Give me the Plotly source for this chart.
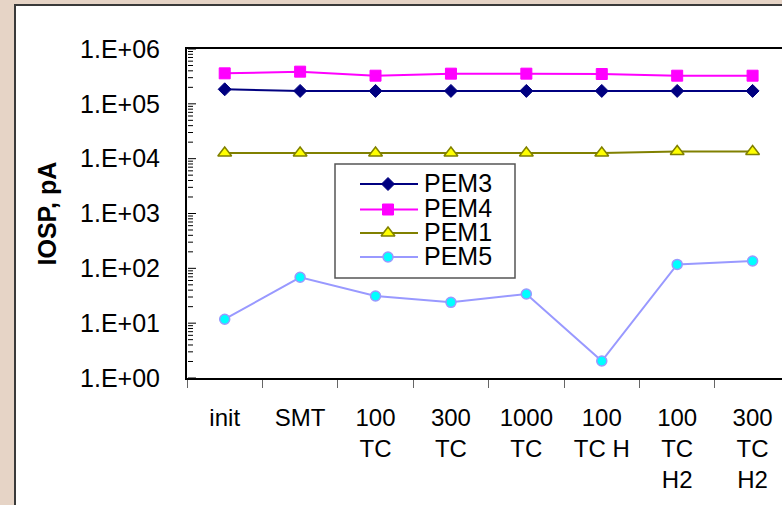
import plotly.graph_objects as go

# Test stages (x categories) and IOSP leakage current per module, in pA
stages = ["init", "SMT", "100<br>TC", "300<br>TC", "1000<br>TC",
          "100<br>TC H", "100<br>TC<br>H2", "300<br>TC<br>H2"]
pem3 = [1.84e5, 1.72e5, 1.72e5, 1.72e5, 1.72e5, 1.72e5, 1.72e5, 1.72e5]
pem4 = [3.60e5, 3.86e5, 3.26e5, 3.55e5, 3.55e5, 3.50e5, 3.26e5, 3.26e5]
pem1 = [1.27e4, 1.27e4, 1.27e4, 1.27e4, 1.27e4, 1.27e4, 1.35e4, 1.35e4]
pem5 = [11.8, 68.7, 31.3, 24.0, 34.0, 2.04, 118, 136]

y_tickvals = [1e0, 1e1, 1e2, 1e3, 1e4, 1e5, 1e6]
y_ticktext = ["1.E+00", "1.E+01", "1.E+02", "1.E+03", "1.E+04", "1.E+05", "1.E+06"]
# minor log ticks at 2..9 within each decade
y_minor = [m * d for d in y_tickvals[:-1] for m in range(2, 10)]

FONT = "Liberation Sans, Arial, sans-serif"
W, H = 782, 505
L, R, T, B = 187, 0, 49, 127

series = [
    dict(name="PEM3", y=pem3, line="#000080",
         marker=dict(symbol="diamond", size=10, color="#000080",
                     line=dict(color="#000080", width=1))),
    dict(name="PEM4", y=pem4, line="#FF00FF",
         marker=dict(symbol="square", size=11, color="#FF00FF",
                     line=dict(color="#FF00FF", width=1))),
    dict(name="PEM1", y=pem1, line="#808000",
         marker=dict(symbol="triangle-up", size=12, color="#FFFF00",
                     line=dict(color="#808000", width=1.5))),
    dict(name="PEM5", y=pem5, line="#9999FF",
         marker=dict(symbol="circle", size=10, color="#00FFFF",
                     line=dict(color="#9999FF", width=1.5))),
]

fig = go.Figure()
for s in series:
    fig.add_trace(go.Scatter(
        x=stages, y=s["y"], name=s["name"], mode="lines+markers",
        line=dict(color=s["line"], width=2), marker=s["marker"],
        showlegend=False, cliponaxis=False,
    ))

# Inward tick marks on the log axis (x in pixel units of the overlay axis)
def tick_trace(vals, length):
    xs, ys = [], []
    for v in vals:
        xs += [L + 1, L + 1 + length, None]
        ys += [v, v, None]
    return go.Scatter(x=xs, y=ys, xaxis="x2", yaxis="y", mode="lines",
                      line=dict(color="black", width=1),
                      showlegend=False, hoverinfo="skip")

fig.add_trace(tick_trace(y_tickvals, 8))
fig.add_trace(tick_trace(y_minor, 5))

# Boxed legend drawn on an overlay axis measured in pixels
leg_x0, leg_x1, leg_y0, leg_y1 = 335, 515, 164, 278
row_y = [184, 209.5, 233, 257]
for s, ry in zip(series, row_y):
    fig.add_trace(go.Scatter(
        x=[360, 418], y=[ry, ry], xaxis="x2", yaxis="y2", mode="lines",
        line=dict(color=s["line"], width=2), showlegend=False, hoverinfo="skip"))
    fig.add_trace(go.Scatter(
        x=[388], y=[ry], xaxis="x2", yaxis="y2", mode="markers",
        marker=s["marker"], showlegend=False, hoverinfo="skip"))

annotations = [
    dict(text=s["name"], x=423, y=ry - 1.5, xref="x2", yref="y2",
         xanchor="left", yanchor="middle", showarrow=False, borderpad=0,
         font=dict(family=FONT, size=25, color="black"))
    for s, ry in zip(series, row_y)
]
annotations.append(dict(
    text="<b>IOSP, pA</b>", textangle=-90, x=(46 - L) / (W - L - R), y=0.5,
    xref="paper", yref="paper", xanchor="center", yanchor="middle",
    showarrow=False, font=dict(family=FONT, size=25, color="black")))

pw, ph = W - L - R, H - T - B
shapes = [
    # white panel with dark frame
    dict(type="rect", xref="paper", yref="paper",
         x0=(15 - L) / pw, x1=(W + 10 - L) / pw,
         y0=(H - B - (H + 10)) / ph, y1=(H - B - 5) / ph,
         fillcolor="white", line=dict(color="#3a3a3a", width=2), layer="below"),
    # legend frame
    dict(type="rect", xref="x2", yref="y2", x0=leg_x0, x1=leg_x1,
         y0=leg_y0, y1=leg_y1, fillcolor="white",
         line=dict(color="#555555", width=1.5), layer="below"),
]

fig.update_layout(
    width=W, height=H,
    margin=dict(l=L, r=R, t=T, b=B, pad=0),
    paper_bgcolor="#e6d4c6", plot_bgcolor="white",
    font=dict(family=FONT, color="black"),
    showlegend=False,
    xaxis=dict(
        type="category", range=[-0.5, 7.39], tickson="boundaries",
        showline=True, linecolor="black", linewidth=2, mirror=True,
        ticks="outside", ticklen=8, tickwidth=1, tickcolor="#666666",
        showgrid=False, zeroline=False,
        tickfont=dict(family=FONT, size=24, color="black"),
        ticklabelstandoff=17,
    ),
    yaxis=dict(
        type="log", range=[0, 6],
        tickmode="array", tickvals=y_tickvals, ticktext=y_ticktext,
        showline=True, linecolor="black", linewidth=2, ticks="",
        showgrid=False, zeroline=False,
        tickfont=dict(family=FONT, size=25, color="black"),
        ticklabelstandoff=20,
    ),
    xaxis2=dict(domain=[0, 1], range=[L, W - R], overlaying="x",
                visible=False, fixedrange=True),
    yaxis2=dict(domain=[0, 1], range=[H - B, T], overlaying="y",
                visible=False, fixedrange=True),
    annotations=annotations,
    shapes=shapes,
)

fig.write_html("out.html")
